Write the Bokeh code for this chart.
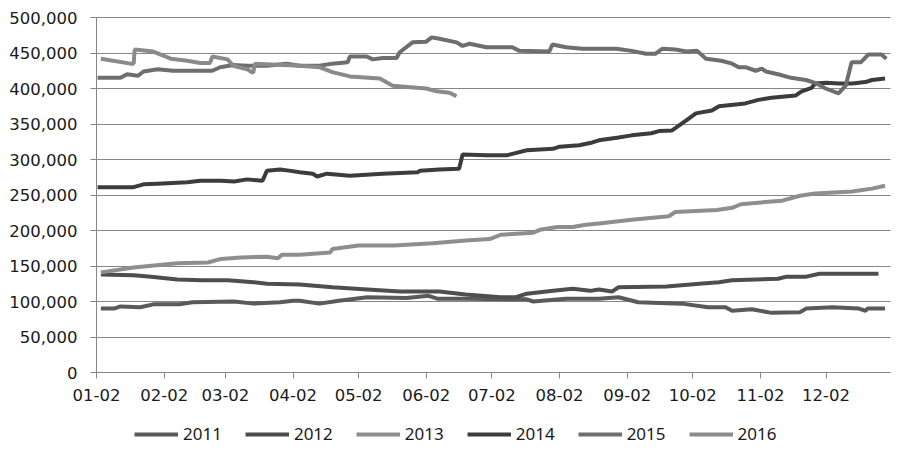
from bokeh.plotting import figure
from bokeh.models import Range1d, FixedTicker, NumeralTickFormatter, Legend, LegendItem
from bokeh.embed import file_html
from bokeh.resources import INLINE

# day-of-year offsets (from 01-02) and values
days_2011 = [2, 8, 11, 20, 26, 38, 44, 63, 72, 84, 90, 93, 102, 111, 124, 142, 152, 156, 169, 197, 200, 215, 230, 239, 248, 268, 280, 288, 291, 300, 309, 322, 325, 337, 349, 352, 353, 361]
vals_2011 = [90000, 90000, 93000, 92000, 96000, 96000, 99000, 100000, 97000, 99000, 101000, 101000, 97000, 101000, 106000, 105000, 108000, 104000, 104000, 103000, 100000, 104000, 104000, 106000, 99000, 97000, 92000, 92000, 87000, 89000, 84000, 85000, 90000, 92000, 90000, 87000, 90000, 90000]

days_2012 = [2, 17, 25, 37, 48, 60, 72, 78, 93, 108, 124, 139, 157, 169, 185, 192, 197, 209, 218, 226, 230, 236, 239, 261, 276, 285, 291, 312, 316, 325, 331, 346, 358]
vals_2012 = [138000, 137000, 135000, 131000, 130000, 130000, 127000, 125000, 124000, 120000, 117000, 114000, 114000, 110000, 106000, 106000, 111000, 115000, 118000, 115000, 117000, 114000, 120000, 121000, 125000, 127000, 130000, 132000, 135000, 135000, 139000, 139000, 139000]

days_2013 = [2, 17, 37, 51, 57, 66, 78, 83, 85, 93, 107, 108, 120, 136, 154, 169, 180, 185, 200, 203, 211, 218, 224, 230, 245, 262, 265, 284, 291, 295, 306, 314, 322, 329, 346, 355, 361]
vals_2013 = [141000, 148000, 154000, 155000, 160000, 162000, 163000, 161000, 166000, 166000, 169000, 174000, 179000, 179000, 182000, 186000, 188000, 194000, 197000, 201000, 205000, 205000, 208000, 210000, 215000, 220000, 226000, 229000, 232000, 237000, 240000, 242000, 249000, 252000, 255000, 259000, 263000]

days_2014 = [0.5, 17, 21.5, 28, 41.5, 47.5, 57, 63, 69, 76, 78, 84, 89, 93, 99, 101, 105.5, 116, 131, 147, 148, 157, 166, 167.6, 178.5, 188, 190.4, 197, 209, 212, 221, 227, 230, 239, 245, 254, 257.5, 263.5, 270, 274.4, 281.7, 285, 297, 303, 309, 320, 322.8, 327.4, 329, 334, 340, 346, 352, 355, 361]
vals_2014 = [261000, 261000, 265000, 266000, 268000, 270000, 270000, 269000, 272000, 270000, 284000, 286000, 284000, 282000, 280000, 276000, 280000, 277000, 280000, 282000, 284000, 286000, 287000, 307000, 306000, 306000, 308000, 313000, 315000, 318000, 320000, 324000, 327000, 331000, 334000, 337000, 340000, 341000, 355000, 365000, 369000, 375000, 379000, 384000, 387000, 390000, 396000, 401000, 407000, 408000, 407000, 407000, 409000, 412000, 414000]

days_2015 = [0.5, 11, 14, 19, 21.5, 28, 35, 53, 56.6, 62.6, 69, 78, 87, 93, 102, 108, 115, 116, 123.7, 126.5, 131, 137.4, 138.8, 144.7, 151, 153.4, 157, 164.8, 167.6, 170.8, 178.5, 190.4, 193.6, 207.3, 208.7, 215, 222.4, 238, 245, 251.6, 256, 259, 265, 270, 275, 279, 286, 291, 294, 297, 301.8, 304.6, 306.4, 312, 318, 324.7, 329, 333.8, 339.7, 343, 345.7, 350, 353.4, 359.4, 361.6]
vals_2015 = [415000, 415000, 420000, 418000, 424000, 427000, 425000, 425000, 430000, 433000, 432000, 432000, 435000, 432000, 432000, 435000, 437000, 445000, 445000, 441000, 443000, 443000, 451000, 465000, 466000, 472000, 470000, 465000, 460000, 463000, 458000, 458000, 453000, 452000, 462000, 458000, 456000, 456000, 453000, 449000, 449000, 456000, 455000, 452000, 453000, 442000, 439000, 435000, 430000, 430000, 425000, 428000, 424000, 420000, 415000, 412000, 408000, 400000, 393000, 404000, 437000, 437000, 448000, 448000, 442000]

days_2016 = [2, 15.5, 17, 17.5, 26, 34, 41.5, 47.5, 52, 53, 60, 62.6, 69, 71.7, 72.6, 93, 102, 108, 116, 129.7, 135.6, 146.6, 151, 155.7, 161.6, 164.8]
vals_2016 = [442000, 435000, 435000, 455000, 452000, 442000, 439000, 436000, 436000, 445000, 441000, 432000, 427000, 422000, 435000, 432000, 430000, 423000, 417000, 414000, 404000, 401000, 400000, 396000, 394000, 389000]

tick_days = [0, 31, 59, 90, 120, 151, 181, 212, 243, 273, 304, 334]
tick_labels = ["01-02", "02-02", "03-02", "04-02", "05-02", "06-02", "07-02", "08-02", "09-02", "10-02", "11-02", "12-02"]
y_ticks = [0, 50000, 100000, 150000, 200000, 250000, 300000, 350000, 400000, 450000, 500000]
x_end = 363.5
y_top = 500000

series = [
    ("2011", days_2011, vals_2011, "#5a5a5a"),
    ("2012", days_2012, vals_2012, "#4e4e4e"),
    ("2013", days_2013, vals_2013, "#8e8e8e"),
    ("2014", days_2014, vals_2014, "#3c3c3c"),
    ("2015", days_2015, vals_2015, "#6e6e6e"),
    ("2016", days_2016, vals_2016, "#8a8a8a"),
]

# Frame covers the whole canvas; plot area is px 96..890 (x) and 17..372 (y)
px_per_day = (890 - 96) / x_end
val_per_px = y_top / (372 - 17)
x_rng = Range1d(-96 / px_per_day, x_end + 9 / px_per_day)
y_rng = Range1d(-(450 - 372) * val_per_px, y_top + 17 * val_per_px)

p = figure(width=899, height=450, output_backend="svg", toolbar_location=None,
           x_range=x_rng, y_range=y_rng,
           min_border_left=0, min_border_right=0, min_border_top=0, min_border_bottom=0)
p.outline_line_color = None
p.background_fill_color = "white"
p.border_fill_color = "white"

p.xgrid.visible = False
p.ygrid.ticker = FixedTicker(ticks=y_ticks)
p.ygrid.grid_line_color = "#868686"
p.ygrid.grid_line_width = 1
p.ygrid.cross_bounds = (0, x_end)

p.xaxis.ticker = FixedTicker(ticks=tick_days)
p.xaxis.major_label_overrides = {d: l for d, l in zip(tick_days, tick_labels)}
p.xaxis.fixed_location = 0
p.xaxis.bounds = (0, x_end)
p.yaxis.ticker = FixedTicker(ticks=y_ticks)
p.yaxis.formatter = NumeralTickFormatter(format="0,0")
p.yaxis.fixed_location = 0
p.yaxis.bounds = (0, y_top)

for ax in (p.xaxis[0], p.yaxis[0]):
    ax.axis_line_color = "#868686"
    ax.major_tick_line_color = "#868686"
    ax.major_tick_out = 6
    ax.major_tick_in = 0
    ax.minor_tick_line_color = None
    ax.major_label_text_font = "DejaVu Sans"
    ax.major_label_text_font_size = "16.5px"
    ax.major_label_text_color = "#1a1a1a"
p.yaxis.major_label_standoff = 13
p.xaxis.major_label_standoff = 10

items = []
for name, d, v, c in series:
    r = p.line(d, v, line_color=c, line_width=4)
    items.append(LegendItem(label=name, renderers=[r]))

legend = Legend(items=items, orientation="horizontal", location=(134, 5),
                glyph_width=44, glyph_height=20, label_height=20, label_standoff=5,
                spacing=23, padding=0, margin=0,
                border_line_color=None, background_fill_alpha=0,
                label_text_font="Noto Sans", label_text_font_size="17px",
                label_text_color="#1a1a1a")
p.add_layout(legend, "center")

open("out.html", "w").write(file_html(p, INLINE))
